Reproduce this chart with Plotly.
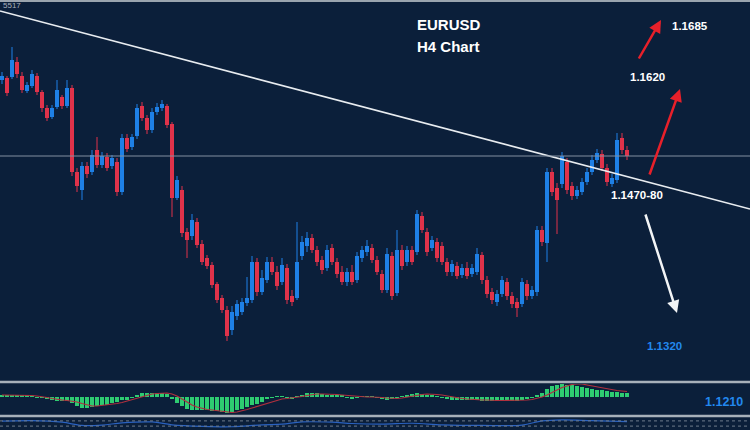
import plotly.graph_objects as go

# H4 EURUSD candles (price)
opens = [1.1620, 1.1622, 1.1623, 1.1638, 1.1624, 1.1609, 1.1614, 1.1624, 1.1608, 1.1592,
         1.1583, 1.1593, 1.1603, 1.1594, 1.1612, 1.1528, 1.1510, 1.1534, 1.1528, 1.1550,
         1.1535, 1.1543, 1.1534, 1.1538, 1.1508, 1.1562, 1.1553, 1.1564, 1.1594, 1.1582,
         1.1570, 1.1588, 1.1592, 1.1594, 1.1576, 1.1502, 1.1510, 1.1468, 1.1464, 1.1478,
         1.1456, 1.1442, 1.1435, 1.1416, 1.1402, 1.1390, 1.1370, 1.1384, 1.1388, 1.1397,
         1.1400, 1.1438, 1.1408, 1.1420, 1.1438, 1.1428, 1.1418, 1.1432, 1.1404, 1.1402,
         1.1444, 1.1454, 1.1462, 1.1450, 1.1440, 1.1432, 1.1452, 1.1438, 1.1428, 1.1418,
         1.1428, 1.1420, 1.1442, 1.1448, 1.1452, 1.1440, 1.1426, 1.1410, 1.1444, 1.1407,
         1.1450, 1.1438, 1.1450, 1.1448, 1.1484, 1.1468, 1.1452, 1.1458, 1.1454, 1.1438,
         1.1428, 1.1434, 1.1425, 1.1432, 1.1426, 1.1428, 1.1445, 1.1420, 1.1408, 1.1398,
         1.1406, 1.1418, 1.1404, 1.1398, 1.1396, 1.1416, 1.1404, 1.1408, 1.1470, 1.1457,
         1.1528, 1.1512, 1.1516, 1.1538, 1.1514, 1.1504, 1.1508, 1.1518, 1.1528, 1.1540,
         1.1546, 1.1532, 1.1516, 1.1520, 1.1562, 1.1550]
closes = [1.1624, 1.1607, 1.1640, 1.1626, 1.1610, 1.1615, 1.1626, 1.1608, 1.1592, 1.1582,
          1.1592, 1.1610, 1.1594, 1.1612, 1.1528, 1.1514, 1.1534, 1.1526, 1.1545, 1.1535,
          1.1544, 1.1532, 1.1542, 1.1508, 1.1562, 1.1551, 1.1563, 1.1592, 1.1582, 1.1570,
          1.1588, 1.1593, 1.1596, 1.1575, 1.1502, 1.1520, 1.1467, 1.1460, 1.1480, 1.1455,
          1.1438, 1.1434, 1.1415, 1.1400, 1.1390, 1.1364, 1.1388, 1.1396, 1.1398, 1.1402,
          1.1438, 1.1408, 1.1422, 1.1438, 1.1428, 1.1414, 1.1435, 1.1400, 1.1398, 1.1438,
          1.1458, 1.1462, 1.1450, 1.1438, 1.1430, 1.1450, 1.1438, 1.1426, 1.1418, 1.1428,
          1.1418, 1.1444, 1.1450, 1.1454, 1.1440, 1.1428, 1.1410, 1.1446, 1.1404, 1.1450,
          1.1434, 1.1450, 1.1438, 1.1486, 1.1470, 1.1448, 1.1460, 1.1442, 1.1438, 1.1428,
          1.1436, 1.1424, 1.1432, 1.1424, 1.1432, 1.1446, 1.1420, 1.1406, 1.1400, 1.1406,
          1.1420, 1.1404, 1.1396, 1.1392, 1.1418, 1.1404, 1.1410, 1.1470, 1.1458, 1.1528,
          1.1508, 1.1500, 1.1544, 1.1510, 1.1504, 1.1510, 1.1518, 1.1528, 1.1540, 1.1547,
          1.1532, 1.1518, 1.1522, 1.1560, 1.1550, 1.1544]
highs = [1.1628, 1.1624, 1.1653, 1.1643, 1.1628, 1.1618, 1.1630, 1.1627, 1.1610, 1.1595,
         1.1595, 1.1620, 1.1605, 1.1620, 1.1615, 1.1532, 1.1538, 1.1538, 1.1550, 1.1563,
         1.1548, 1.1547, 1.1545, 1.1542, 1.1566, 1.1566, 1.1566, 1.1596, 1.1598, 1.1585,
         1.1592, 1.1597, 1.1600, 1.1596, 1.1578, 1.1524, 1.1514, 1.1472, 1.1486, 1.1482,
         1.1460, 1.1445, 1.1438, 1.1418, 1.1405, 1.1394, 1.1394, 1.1400, 1.1402, 1.1423,
         1.1444, 1.1442, 1.1430, 1.1443, 1.1443, 1.1434, 1.1442, 1.1436, 1.1410, 1.1478,
         1.1464, 1.1468, 1.1466, 1.1454, 1.1444, 1.1455, 1.1456, 1.1442, 1.1434, 1.1432,
         1.1435, 1.1448, 1.1454, 1.1460, 1.1456, 1.1444, 1.1430, 1.1452, 1.1448, 1.1470,
         1.1455, 1.1454, 1.1454, 1.1490, 1.1488, 1.1472, 1.1464, 1.1462, 1.1458, 1.1442,
         1.1440, 1.1438, 1.1436, 1.1438, 1.1436, 1.1452, 1.1448, 1.1424, 1.1412, 1.1410,
         1.1424, 1.1422, 1.1408, 1.1402, 1.1422, 1.1420, 1.1414, 1.1474, 1.1474, 1.1532,
         1.1532, 1.1517, 1.1548, 1.1542, 1.1518, 1.1514, 1.1522, 1.1532, 1.1545, 1.1551,
         1.1550, 1.1536, 1.1526, 1.1567, 1.1567, 1.1554]
lows = [1.1616, 1.1604, 1.1621, 1.1622, 1.1607, 1.1607, 1.1612, 1.1605, 1.1588, 1.1579,
        1.1581, 1.1591, 1.1591, 1.1592, 1.1524, 1.1508, 1.1500, 1.1522, 1.1525, 1.1532,
        1.1532, 1.1529, 1.1531, 1.1504, 1.1505, 1.1548, 1.1550, 1.1561, 1.1579, 1.1566,
        1.1567, 1.1585, 1.1589, 1.1572, 1.1483, 1.1500, 1.1463, 1.1442, 1.1460, 1.1452,
        1.1435, 1.1431, 1.1412, 1.1397, 1.1387, 1.1359, 1.1365, 1.1380, 1.1385, 1.1394,
        1.1397, 1.1404, 1.1405, 1.1417, 1.1425, 1.1410, 1.1415, 1.1396, 1.1394, 1.1400,
        1.1440, 1.1448, 1.1447, 1.1434, 1.1426, 1.1429, 1.1435, 1.1422, 1.1415, 1.1414,
        1.1415, 1.1417, 1.1438, 1.1444, 1.1437, 1.1425, 1.1407, 1.1407, 1.1400, 1.1404,
        1.1430, 1.1434, 1.1435, 1.1445, 1.1467, 1.1444, 1.1449, 1.1438, 1.1435, 1.1424,
        1.1424, 1.1421, 1.1422, 1.1421, 1.1423, 1.1425, 1.1416, 1.1402, 1.1396, 1.1394,
        1.1403, 1.1400, 1.1392, 1.1383, 1.1393, 1.1400, 1.1401, 1.1404, 1.1454, 1.1438,
        1.1504, 1.1466, 1.1512, 1.1506, 1.1500, 1.1501, 1.1505, 1.1515, 1.1525, 1.1537,
        1.1529, 1.1514, 1.1513, 1.1517, 1.1546, 1.1540]
bars = list(range(len(closes)))

# MACD-style panel
macd_hist = [1.5, 1.5, 2, 2, 2, 1.5, 1, -0.5, -1, -2,
             -3, -3.5, -3.5, -3.5, -6, -9, -11, -11, -10, -9,
             -8, -7.5, -6, -5, -3, -2.5, -1, 2, 4, 4,
             4, 4, 4, 3.5, -2, -6, -9, -12, -13, -13,
             -13, -13, -13.5, -14, -15, -16, -15, -13, -12, -10,
             -8, -7, -5, -2, -1, 0.5, 0.5, -1, -1.5, 0.5,
             2, 4, 4.5, 4, 3, 2.5, 2.5, 2, 1.5, -1,
             -1.5, -0.5, 0.5, 0.5, 0.5, -0.5, -2, -3, -2, -0.5,
             0.5, 2, 3, 4, 3.5, 2.5, 2, 1, -0.5, -1.5,
             -2.5, -3, -3, -3, -3, -3, -3.5, -4, -4, -4,
             -3.5, -3.5, -3.5, -3.5, -3, -2, -1, 2, 4, 8,
             11, 12, 13, 12.5, 12, 11, 10, 9, 8, 7.5,
             7, 6, 5, 5, 4.5, 4.5]
macd_signal = [2, 2, 2, 2, 2, 2, 1.5, 1, 0.5, -0.5,
               -1.5, -2.5, -3, -3.5, -4, -5, -6.5, -8, -9, -9,
               -8.5, -8, -7.5, -6.5, -5.5, -4, -2.5, -1, 0.5, 2,
               3, 3.5, 4, 4, 3, 1, -2, -5, -8, -10,
               -11.5, -12.5, -13, -13.5, -14, -15, -15.5, -15, -14, -12.5,
               -11, -9.5, -8, -6, -4.5, -3, -2, -1.5, -1, -0.5,
               0.5, 1.5, 2.5, 3, 3, 3, 3, 2.5, 2, 1.5,
               1, 0.5, 0, 0, 0, 0, -0.5, -1, -1.5, -1.5,
               -1, 0, 1, 2, 2.5, 3, 3, 2.5, 2, 1,
               0, -1, -1.5, -2, -2.5, -2.5, -3, -3, -3.5, -3.5,
               -3.5, -3.5, -3.5, -3.5, -3.5, -3, -2.5, -1.5, 0, 2,
               4.5, 7, 9.5, 11, 12.5, 13, 13, 12, 11, 10,
               9, 8, 7, 6.5, 6, 5.5]

# bottom oscillator strip
osc_bars = [0, 6, 12, 16, 20, 24, 30, 34, 40, 46, 52, 56, 60, 66, 70, 76, 82, 88, 96, 104, 108, 112, 118, 125]
osc_vals = [68, 72, 60, 35, 38, 55, 62, 40, 28, 25, 40, 45, 62, 60, 50, 45, 52, 40, 35, 38, 70, 78, 72, 65]

trend_x = [-0.4, 149.6]
trend_y = [1.1689, 1.1491]
last_price = 1.1544

BG = "#0b1f3a"
UP, DOWN = "#1e80e6", "#e0334a"
W, H = 750, 430

fig = go.Figure()

# candles drawn as wick lines + body bars so their width can be kept thin
for up in (True, False):
    idx = [i for i in bars if (closes[i] >= opens[i]) == up]
    col = UP if up else DOWN
    wx, wy = [], []
    for i in idx:
        wx += [i, i, None]
        wy += [lows[i], highs[i], None]
    fig.add_trace(go.Scatter(x=wx, y=wy, mode="lines", line=dict(color=col, width=1),
                             showlegend=False, hoverinfo="skip"))
    fig.add_trace(go.Bar(x=idx, base=[min(opens[i], closes[i]) for i in idx],
                         y=[max(abs(closes[i] - opens[i]), 0.00012) for i in idx],
                         width=0.68, marker=dict(color=col, line=dict(width=0)),
                         showlegend=False, hoverinfo="skip"))

fig.add_trace(go.Scatter(x=trend_x, y=trend_y, mode="lines",
                         line=dict(color="#e8ecf0", width=1.6), showlegend=False, hoverinfo="skip"))
fig.add_trace(go.Bar(x=bars, y=macd_hist, marker=dict(color="#2ecc71", line=dict(width=0)),
                     width=0.65, yaxis="y2", showlegend=False, hoverinfo="skip"))
fig.add_trace(go.Scatter(x=bars, y=macd_signal, mode="lines", yaxis="y2",
                         line=dict(color="#b0303e", width=1.2), showlegend=False, hoverinfo="skip"))
fig.add_trace(go.Scatter(x=osc_bars, y=osc_vals, mode="lines", yaxis="y3",
                         line=dict(color="#2a62c0", width=1.2, shape="spline"), showlegend=False, hoverinfo="skip"))

def py(p):
    return 1 - p / H

fig.update_layout(
    width=W, height=H, margin=dict(l=0, r=0, t=0, b=0),
    paper_bgcolor=BG, plot_bgcolor=BG,
    xaxis=dict(range=[-0.4, 149.6], visible=False, fixedrange=True),
    yaxis=dict(range=[1.1320, 1.1700], domain=[py(380), 1], visible=False),
    yaxis2=dict(range=[-17, 13], domain=[py(414), py(384)], visible=False),
    yaxis3=dict(range=[0, 100], domain=[0, py(417)], visible=False),
    barmode="overlay", bargap=0,
)

shapes = [
    dict(type="line", xref="paper", yref="y", x0=0, x1=1, y0=last_price, y1=last_price,
         line=dict(color="#8390a0", width=1)),
    dict(type="line", xref="paper", yref="paper", x0=0, x1=1, y0=py(1), y1=py(1),
         line=dict(color="#9aa4ae", width=2)),
    dict(type="line", xref="paper", yref="paper", x0=0, x1=1, y0=py(382), y1=py(382),
         line=dict(color="#a7b0ba", width=2.5)),
    dict(type="line", xref="paper", yref="paper", x0=0, x1=1, y0=py(416), y1=py(416),
         line=dict(color="#a7b0ba", width=2.5)),
    dict(type="line", xref="paper", yref="y3", x0=0, x1=1, y0=70, y1=70,
         line=dict(color="#6f7c8c", width=1, dash="dot")),
    dict(type="line", xref="paper", yref="y3", x0=0, x1=1, y0=30, y1=30,
         line=dict(color="#6f7c8c", width=1, dash="dot")),
]
fig.update_layout(shapes=shapes)

FONT = "Arial, Liberation Sans, sans-serif"

def label(text, x, y, color="white", size=11.5):
    fig.add_annotation(text="<b>%s</b>" % text, xref="paper", yref="paper",
                       x=x / W, y=py(y), xanchor="left", yanchor="middle", showarrow=False,
                       font=dict(family=FONT, size=size, color=color))

def arrow(x0, y0, x1, y1, color):
    fig.add_annotation(text="", xref="paper", yref="paper", x=x1 / W, y=py(y1),
                       ax=x0 - x1, ay=y0 - y1, axref="pixel", ayref="pixel",
                       showarrow=True, arrowhead=2, arrowsize=1, arrowwidth=2.5, arrowcolor=color)

label("EURUSD", 415, 24, size=15)
label("H4 Chart", 415, 46, size=15)
label("1.1685", 670, 26)
label("1.1620", 628, 77)
label("1.1470-80", 609, 195)
label("1.1320", 645, 346, color="#2288ee")
label("1.1210", 703, 402, color="#2288ee", size=12.5)
fig.add_annotation(text="5517", xref="paper", yref="paper", x=1 / W, y=py(6),
                   xanchor="left", yanchor="middle", showarrow=False,
                   font=dict(family=FONT, size=8, color="#a8b0ba"))

arrow(638, 60, 661, 20, "#e8202a")
arrow(649, 176, 680, 89, "#e8202a")
arrow(645, 213, 677, 313, "#f2f4f6")

fig.write_html("out.html", config={"displayModeBar": False},
               post_script="document.body.style.margin='0';document.body.style.background='%s';" % BG)
